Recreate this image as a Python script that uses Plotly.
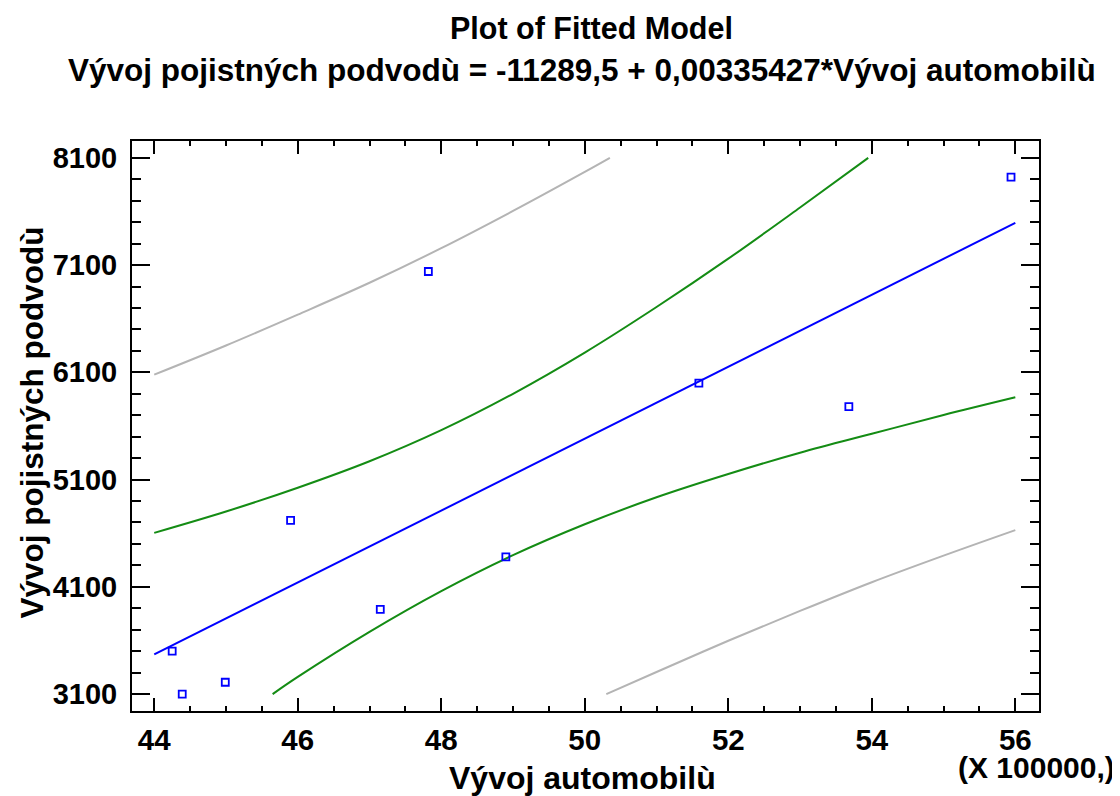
import plotly.graph_objects as go

# Observed data (Vývoj automobilů in units of 100000, Vývoj pojistných podvodů)
obs_x = [44.25, 44.39, 44.99, 45.90, 47.15, 47.82, 48.90, 51.59, 53.68, 55.94]
obs_y = [3500, 3100, 3210, 4720, 3890, 7040, 4380, 6000, 5780, 7920]

# Fitted line
fit_x = [44, 56]
fit_y = [3469, 7494]

# Confidence limits (green)
ci_up_x = [44, 45, 46, 47, 48, 49, 50, 51, 52, 53, 53.95]
ci_up_y = [4603, 4802, 5024, 5271, 5561, 5900, 6284, 6709, 7160, 7637, 8100]
ci_lo_x = [45.65, 46, 47, 48, 49, 50, 51, 52, 53, 54, 55, 56]
ci_lo_y = [3100, 3260, 3680, 4060, 4395, 4683, 4935, 5152, 5350, 5527, 5702, 5867]

# Prediction limits (gray)
pi_up_x = [44, 45, 46, 47, 48, 49, 50, 50.35]
pi_up_y = [6078, 6350, 6638, 6935, 7258, 7605, 7969, 8100]
pi_lo_x = [50.30, 51, 52, 53, 54, 55, 56]
pi_lo_y = [3100, 3306, 3597, 3875, 4143, 4391, 4629]

x_ticks = [44, 46, 48, 50, 52, 54, 56]
y_ticks = [3100, 4100, 5100, 6100, 7100, 8100]

FONT = "Liberation Sans, Arial, sans-serif"
GREEN = "rgb(20,140,20)"
GRAY = "rgb(180,180,180)"
BLUE = "rgb(0,0,255)"

fig = go.Figure()

for xs, ys, col in [(pi_up_x, pi_up_y, GRAY), (pi_lo_x, pi_lo_y, GRAY),
                    (ci_up_x, ci_up_y, GREEN), (ci_lo_x, ci_lo_y, GREEN),
                    (fit_x, fit_y, BLUE)]:
    fig.add_trace(go.Scatter(x=xs, y=ys, mode="lines",
                             line=dict(color=col, width=2, shape="spline", smoothing=1.0),
                             hoverinfo="skip", showlegend=False))

fig.add_trace(go.Scatter(x=obs_x, y=obs_y, mode="markers",
                         marker=dict(symbol="square-open", size=7, color=BLUE,
                                     line=dict(width=1.8, color=BLUE)),
                         showlegend=False))

# page has an 8px body margin: figure drawn 8px in from the window edge
OFF = 8
W, H = 1120 - OFF, 796 - OFF
# plot frame in window pixels
L, R, T, B = 131.7, 1039.3, 140.7, 711.0
pw, ph = R - L, B - T

def px(xp):
    return (xp - L) / pw

def py(yp):
    return (B - yp) / ph

fig.update_layout(
    width=W, height=H,
    margin=dict(l=L - OFF, r=W - (R - OFF), t=T - OFF, b=H - (B - OFF), pad=0),
    paper_bgcolor="white", plot_bgcolor="white",
    font=dict(family=FONT, color="black"),
    showlegend=False,
)

fig.update_xaxes(
    range=[43.69, 56.33], tickvals=x_ticks, ticktext=[str(v) for v in x_ticks],
    ticks="inside", ticklen=13, tickwidth=2, tickcolor="black",
    minor=dict(dtick=0.5, tick0=44, ticks="inside", ticklen=5, tickwidth=2, tickcolor="black"),
    showline=True, linewidth=2, linecolor="black", mirror="allticks",
    showgrid=False, zeroline=False,
    tickfont=dict(family=FONT, size=29.5, weight="bold", color="black"),
    ticklabelstandoff=2,
)
fig.update_yaxes(
    range=[2942, 8257], tickvals=y_ticks, ticktext=[str(v) for v in y_ticks],
    ticks="inside", ticklen=18, tickwidth=2, tickcolor="black",
    minor=dict(dtick=200, tick0=3100, ticks="inside", ticklen=9, tickwidth=2, tickcolor="black"),
    showline=True, linewidth=2, linecolor="black", mirror="allticks",
    showgrid=False, zeroline=False,
    tickfont=dict(family=FONT, size=29, weight="bold", color="black"),
    ticklabelstandoff=7,
)

def bold(size):
    return dict(family=FONT, size=size, weight="bold", color="black")

fig.add_annotation(text="Plot of Fitted Model", x=px(592), y=py(28), xref="paper", yref="paper",
                   showarrow=False, xanchor="center", yanchor="middle", font=bold(30.5))
fig.add_annotation(text="Vývoj pojistných podvodù = -11289,5 + 0,00335427*Vývoj automobilù",
                   x=px(582), y=py(70), xref="paper", yref="paper",
                   showarrow=False, xanchor="center", yanchor="middle", font=bold(31.5))
fig.add_annotation(text="Vývoj automobilù", x=px(582), y=py(778), xref="paper", yref="paper",
                   showarrow=False, xanchor="center", yanchor="middle", font=bold(32))
fig.add_annotation(text="Vývoj pojistných podvodù", x=px(32), y=py(422), xref="paper", yref="paper",
                   showarrow=False, xanchor="center", yanchor="middle", textangle=-90, font=bold(31.5))
fig.add_annotation(text="(X 100000,)", x=px(1117), y=py(768), xref="paper", yref="paper",
                   showarrow=False, xanchor="right", yanchor="middle", font=bold(30))

fig.write_html("out.html")
